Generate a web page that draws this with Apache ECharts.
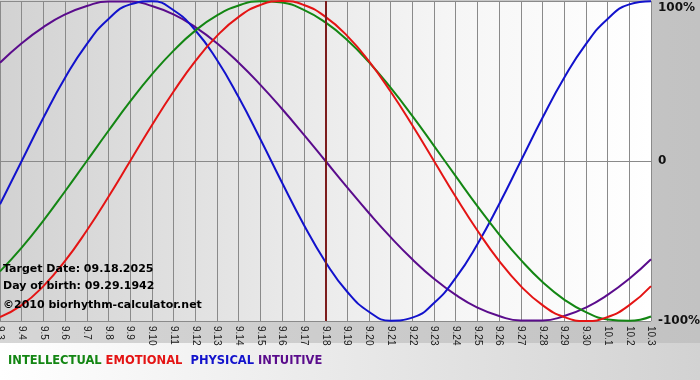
<!DOCTYPE html>
<html><head><meta charset="utf-8">
<script src="https://cdn.jsdelivr.net/npm/echarts@6/dist/echarts.min.js"></script>
<style>html,body{margin:0;padding:0;background:#fff}#c{width:700px;height:380px}</style>
</head><body><div id="c"></div>
<script>
var dates = ['9.3','9.4','9.5','9.6','9.7','9.8','9.9','9.10','9.11','9.12','9.13','9.14','9.15','9.16','9.17','9.18','9.19','9.20','9.21','9.22','9.23','9.24','9.25','9.26','9.27','9.28','9.29','9.30','10.1','10.2','10.3'];
var intellectual = [-69.0,-54.1,-37.2,-18.9,0,18.9,37.2,54.1,69.0,81.5,91.0,97.2,99.9,99.0,94.5,86.6,75.6,61.8,45.8,28.2,9.5,-9.5,-28.2,-45.8,-61.8,-75.6,-86.6,-94.5,-99.0,-99.9,-97.2];
var emotional = [-97.5,-90.1,-78.2,-62.4,-43.4,-22.3,0,22.3,43.4,62.4,78.2,90.1,97.5,100,97.5,90.1,78.2,62.4,43.4,22.3,0,-22.3,-43.4,-62.4,-78.2,-90.1,-97.5,-100,-97.5,-90.1,-78.2];
var physical = [-27.0,0,27.0,52.0,73.1,88.8,97.9,99.8,94.2,81.7,63.1,39.8,13.6,-13.6,-39.8,-63.1,-81.7,-94.2,-99.8,-97.9,-88.8,-73.1,-52.0,-27.0,0,27.0,52.0,73.1,88.8,97.9,99.8];
var intuitive = [61.4,73.6,83.7,91.6,96.9,99.7,99.7,96.9,91.6,83.7,73.6,61.4,47.6,32.5,16.5,0,-16.5,-32.5,-47.6,-61.4,-73.6,-83.7,-91.6,-96.9,-99.7,-99.7,-96.9,-91.6,-83.7,-73.6,-61.4];
var yTicks = {'100':'100%','0':'0','-100':'-100%'};
var targetDate = '9.18';
var infoLines = ['Target Date: 09.18.2025','Day of birth: 09.29.1942','\u00a92010 biorhythm-calculator.net'];
var legendNames = ['INTELLECTUAL','EMOTIONAL','PHYSICAL','INTUITIVE'];
var colors = ['#138613','#e41414','#1212cc','#5a0c8c'];

var chart = echarts.init(document.getElementById('c'), null, {renderer:'canvas'});
function mk(name, data, color, extra){
  var s = {name:name, type:'line', data:data, smooth:0.5, symbol:'none',
    lineStyle:{color:color, width:2}, itemStyle:{color:color}, z:3};
  if (extra) for (var k in extra) s[k]=extra[k];
  return s;
}
var infoFont = 'bold 11px "DejaVu Sans"';
var legFont = 'bold 11.5px "DejaVu Sans"';
chart.setOption({
  animation:false,
  backgroundColor:{type:'linear',x:0,y:0,x2:1,y2:0,colorStops:[{offset:0,color:'#d6d6d6'},{offset:1,color:'#c2c2c2'}]},
  grid:{left:0,right:49,top:1,bottom:59,show:true,borderWidth:0,outerBoundsMode:'none',containLabel:false,
    backgroundColor:{type:'linear',x:0,y:0,x2:1,y2:0,colorStops:[{offset:0,color:'#d2d2d2'},{offset:0.7,color:'#f6f6f6'},{offset:1,color:'#ffffff'}]}},
  xAxis:{type:'category',data:dates,boundaryGap:false,
    axisLine:{show:false},
    axisTick:{show:true,interval:0,length:3,lineStyle:{color:'#888'}},
    splitLine:{show:true,interval:0,lineStyle:{color:'#8a8a8a',width:1}},
    axisLabel:{interval:0,rotate:-90,margin:5,color:'#1a1a1a',fontFamily:'Liberation Sans',fontSize:10}},
  yAxis:{type:'value',min:-100,max:100,interval:100,position:'right',
    axisLine:{show:false},axisTick:{show:false},
    splitLine:{show:true,lineStyle:{color:'#8a8a8a',width:1}},
    axisLabel:{margin:7,align:'left',color:'#111',fontFamily:'DejaVu Sans',fontWeight:'bold',fontSize:12,
      formatter:function(v){var t=yTicks[String(v)]; return v===100?'{t|'+t+'}':t;},
      rich:{t:{fontFamily:'DejaVu Sans',fontWeight:'bold',fontSize:12,color:'#111',padding:[14,0,0,0]}}}},
  graphic:[
    {type:'rect',shape:{x:0,y:343,width:700,height:37},z:-1,silent:true,
     style:{fill:{type:'linear',x:0,y:0,x2:1,y2:0,colorStops:[{offset:0,color:'#ffffff'},{offset:1,color:'#d2d2d2'}]}}},
    {type:'text',left:3,top:264,z:10,style:{text:infoLines[0],fill:'#000',font:infoFont}},
    {type:'text',left:3,top:281,z:10,style:{text:infoLines[1],fill:'#000',font:infoFont}},
    {type:'text',left:3,top:300,z:10,style:{text:infoLines[2],fill:'#000',font:infoFont}},
    {type:'text',left:8,top:355,z:10,style:{
      text:'{g|'+legendNames[0]+'} {r|'+legendNames[1]+'}  {b|'+legendNames[2]+'} {p|'+legendNames[3]+'}',
      font:legFont,
      rich:{g:{fill:colors[0],font:legFont},r:{fill:colors[1],font:legFont},
            b:{fill:colors[2],font:legFont},p:{fill:colors[3],font:legFont}}}}
  ],
  series:[
    mk(legendNames[3], intuitive, colors[3], {markLine:{silent:true,symbol:'none',label:{show:false},
      lineStyle:{color:'#7c1c1c',width:2,type:'solid'},data:[{xAxis:targetDate}]}}),
    mk(legendNames[2], physical, colors[2]),
    mk(legendNames[0], intellectual, colors[0]),
    mk(legendNames[1], emotional, colors[1])
  ]
});
</script></body></html>
